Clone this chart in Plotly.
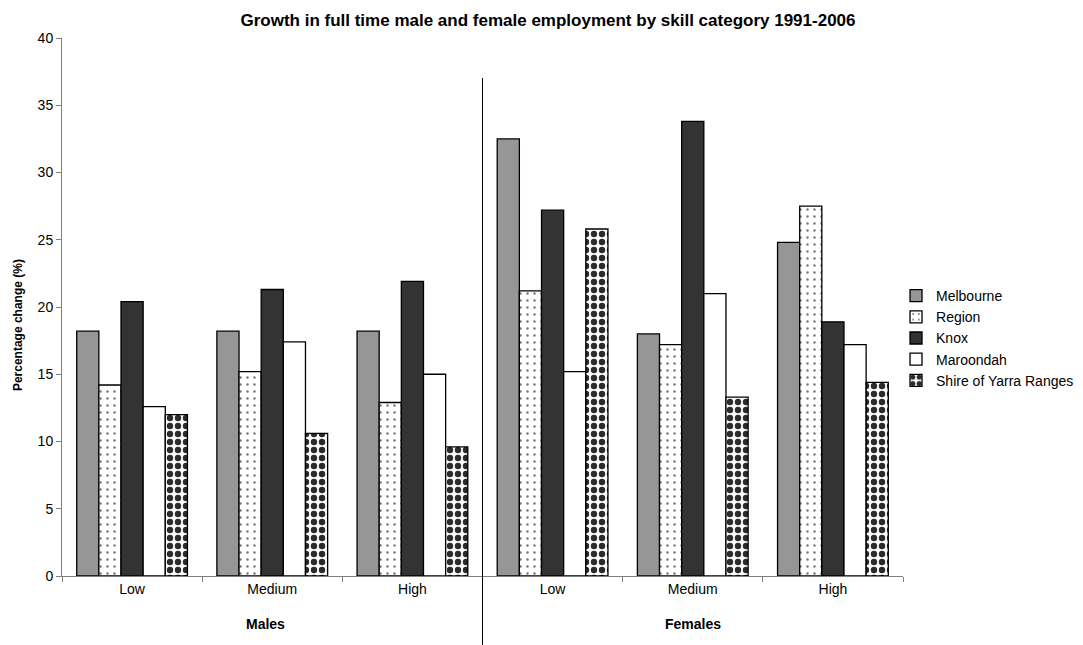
import plotly.graph_objects as go

categories = ["M-Low", "M-Medium", "M-High", "F-Low", "F-Medium", "F-High"]
skill_labels = ["Low", "Medium", "High", "Low", "Medium", "High"]
group_labels = ["Males", "Females"]

melbourne = [18.2, 18.2, 18.2, 32.5, 18.0, 24.8]
region = [14.2, 15.2, 12.9, 21.2, 17.2, 27.5]
knox = [20.4, 21.3, 21.9, 27.2, 33.8, 18.9]
maroondah = [12.6, 17.4, 15.0, 15.2, 21.0, 17.2]
yarra = [12.0, 10.6, 9.6, 25.8, 13.3, 14.4]

title = "Growth in full time male and female employment by skill category 1991-2006"
y_title = "Percentage change (%)"
y_ticks = [0, 5, 10, 15, 20, 25, 30, 35, 40]

FONT = "Liberation Sans, Arial, sans-serif"
line = dict(color="black", width=1.3)

series = [
    ("Melbourne", melbourne, dict(color="#969696", line=line)),
    ("Region", region, dict(color="white", line=line,
                            pattern=dict(shape=".", fgcolor="#777777", bgcolor="white",
                                         size=7, solidity=0.1, fillmode="replace"))),
    ("Knox", knox, dict(color="#333333", line=line)),
    ("Maroondah", maroondah, dict(color="white", line=line)),
    ("Shire of Yarra Ranges", yarra, dict(color="white", line=line,
                                          pattern=dict(shape=".", fgcolor="#2a2a2a", bgcolor="white",
                                                       size=8, solidity=0.5, fillmode="replace"))),
]

fig = go.Figure()
for i, (name, vals, marker) in enumerate(series):
    fig.add_trace(go.Bar(x=categories, y=vals, name=name, marker=marker,
                         legendgroup=f"g{i}"))

fig.update_layout(
    width=1083, height=645,
    paper_bgcolor="white", plot_bgcolor="white",
    margin=dict(l=54, r=184, t=30, b=77),
    barmode="group", bargap=0.21, bargroupgap=0,
    font=dict(family=FONT, size=14, color="black"),
    title=dict(text="<b>" + title + "</b>", x=0.4986, xanchor="center", y=0.991, yanchor="top",
               font=dict(family=FONT, size=17, color="black")),
    showlegend=True,
    legend=dict(x=0.9917, xanchor="left", y=0.4424, yanchor="middle",
                font=dict(family=FONT, size=14, color="black"),
                tracegroupgap=0, bgcolor="rgba(0,0,0,0)"),
    xaxis=dict(type="category", tickmode="array", tickvals=categories, ticktext=skill_labels,
               tickson="boundaries", ticks="outside", ticklen=5, tickcolor="#808080",
               showline=True, linecolor="#808080", linewidth=1, showgrid=False, automargin=False,
               tickfont=dict(family=FONT, size=14), range=[-0.5, 5.5]),
    yaxis=dict(range=[0, 40], tickmode="array", tickvals=y_ticks, ticks="outside", ticklen=5,
               tickcolor="#808080", showline=True, linecolor="#808080", linewidth=1,
               showgrid=False, zeroline=False, automargin=False, tickfont=dict(family=FONT, size=14)),
)

fig.add_annotation(x=-0.0522, y=0.4665, xref="paper", yref="paper", text="<b>" + y_title + "</b>",
                   textangle=-90, showarrow=False, xanchor="center", yanchor="middle",
                   font=dict(family=FONT, size=12))
fig.add_annotation(x=categories[1], y=-0.089, xref="x", yref="paper", text="<b>" + group_labels[0] + "</b>",
                   showarrow=False, xshift=-7, yanchor="middle", font=dict(family=FONT, size=14))
fig.add_annotation(x=categories[4], y=-0.089, xref="x", yref="paper", text="<b>" + group_labels[1] + "</b>",
                   showarrow=False, yanchor="middle", font=dict(family=FONT, size=14))

fig.add_shape(type="line", xref="x", yref="paper", x0=2.5, x1=2.5, y0=0.9257, y1=-0.128,
              line=dict(color="black", width=1))

fig.write_html("out.html")
